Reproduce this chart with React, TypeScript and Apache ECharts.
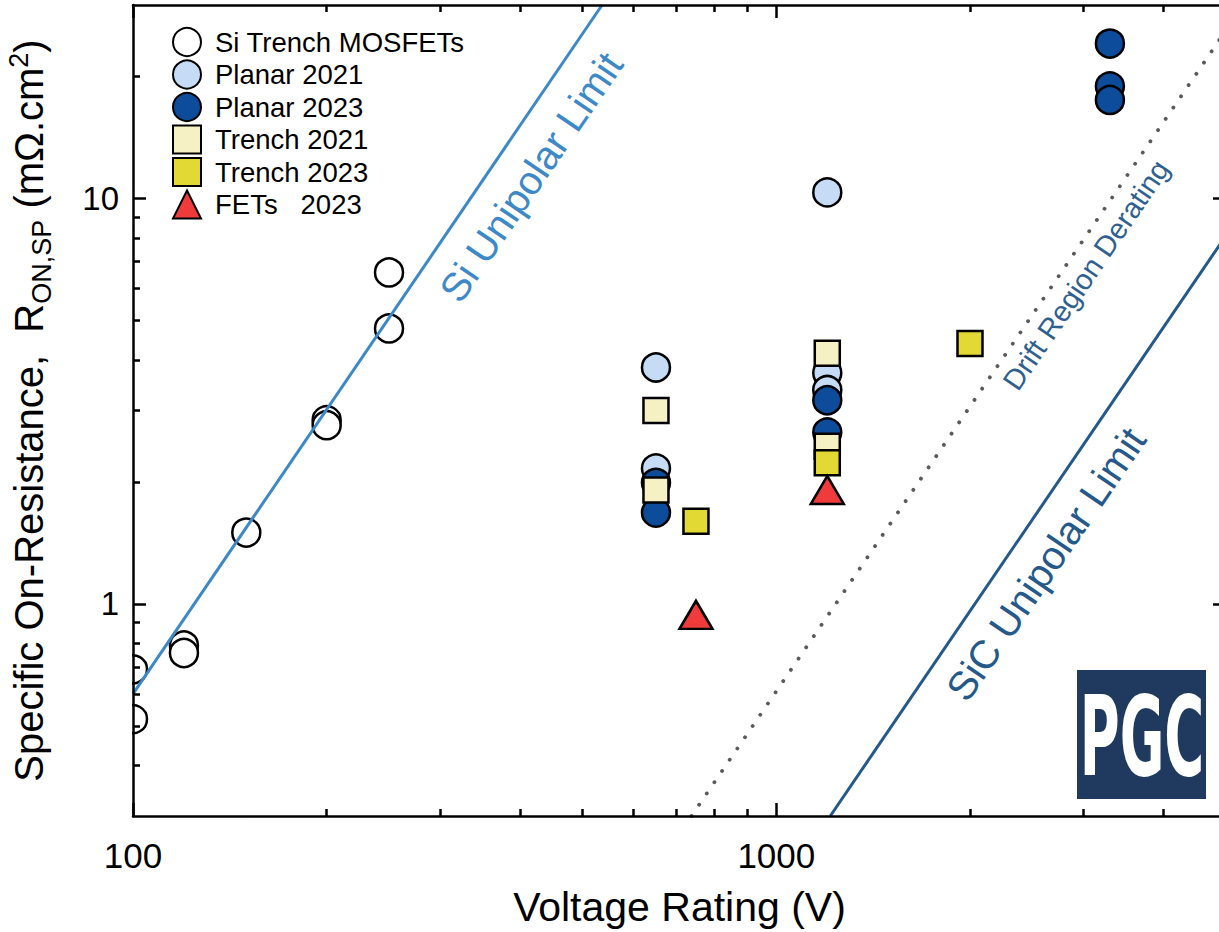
import React, { useEffect, useRef } from "react";
import * as echarts from "echarts";

// Device data: [voltage rating (V), specific on-resistance (mΩ·cm²)]
const siTrench: [number, number][] = [
  [100, 0.69], [100, 0.52], [120, 0.79], [120, 0.757], [150, 1.5],
  [200, 2.84], [200, 2.76], [250, 4.78], [250, 6.57],
];
const planar2021: [number, number][] = [
  [650, 3.83], [650, 2.16], [1200, 10.35], [1200, 3.71], [1200, 3.37],
];
const planar2023: [number, number][] = [
  [650, 1.99], [650, 1.68], [1200, 3.18], [1200, 2.65],
  [3300, 24.1], [3300, 18.9], [3300, 17.5],
];
const trench2021: [number, number][] = [
  [650, 3.0], [650, 1.91], [1200, 4.15], [1200, 2.45],
];
const trench2023: [number, number][] = [[750, 1.6], [1200, 2.23], [2000, 4.39]];
const fets2023: [number, number][] = [[750, 0.94], [1200, 1.91]];

// Limit lines (end points)
const siLimit: [number, number][] = [[100, 0.6], [536, 30]];
const sicLimit: [number, number][] = [[1213, 0.3], [5000, 8.1]];
const driftDerating: [number, number][] = [[738, 0.3], [5000, 26]];

// Axis ranges and ticks
const xRange = [100, 5000];
const yRange = [0.3, 30];
const xMajor = [100, 1000];
const xMinor = [200, 300, 400, 500, 600, 700, 800, 900, 2000, 3000, 4000];
const yMajor = [1, 10];
const yMinor = [0.4, 0.5, 0.6, 0.7, 0.8, 0.9, 2, 3, 4, 5, 6, 7, 8, 9, 20];

const FONT = "Liberation Sans, Arial, Helvetica, sans-serif";
const AXIS_W = 2.5;

function tickAxis(
  kind: "x" | "y",
  position: string,
  values: number[],
  length: number,
  labels: boolean,
  line: boolean
) {
  const range = kind === "x" ? xRange : yRange;
  return {
    type: "log",
    logBase: 10,
    min: range[0],
    max: range[1],
    position,
    z: 10,
    splitLine: { show: false },
    axisLine: {
      show: line,
      onZero: false,
      lineStyle: { color: "#000", width: AXIS_W },
    },
    axisTick: {
      show: true,
      inside: true,
      length,
      customValues: values,
      lineStyle: { color: "#000", width: AXIS_W },
    },
    axisLabel: labels
      ? {
          show: true,
          customValues: values,
          formatter: (v: number) => String(v),
          fontSize: kind === "x" ? 35 : 33,
          fontFamily: FONT,
          color: "#000",
          margin: kind === "x" ? 22 : 14,
        }
      : { show: false },
  } as any;
}

function scatter(name: string, data: [number, number][], symbol: string, size: any, color: string) {
  return {
    name,
    type: "scatter",
    data,
    symbol,
    symbolSize: size,
    itemStyle: { color, borderColor: "#000", borderWidth: 2.5, opacity: 1 },
    emphasis: { disabled: true },
  };
}

export default function App() {
  const ref = useRef<HTMLDivElement>(null);

  useEffect(() => {
    if (!ref.current) return;
    const chart = echarts.init(ref.current, undefined, { renderer: "svg" });
    const slopeAngle = Math.atan(1.463);

    const xAxes = [
      {
        ...tickAxis("x", "bottom", xMajor, 13, true, true),
        name: "Voltage Rating (V)",
        nameLocation: "middle",
        nameGap: 70,
        nameTextStyle: { fontSize: 41, fontFamily: FONT, color: "#000" },
      },
      tickAxis("x", "bottom", xMinor, 7, false, false),
      tickAxis("x", "top", xMajor, 13, false, true),
      tickAxis("x", "top", xMinor, 7, false, false),
    ];
    const yAxes = [
      {
        ...tickAxis("y", "left", yMajor, 13, true, true),
        name:
          "{a|Specific On-Resistance,  R}{sub|ON,SP}{a| (mΩ.cm}{sup|2}{a|)}",
        nameLocation: "middle",
        nameGap: 76,
        nameRotate: 90,
        nameTextStyle: {
          fontFamily: FONT,
          color: "#000",
          rich: {
            a: { fontSize: 40, fontFamily: FONT, color: "#000", lineHeight: 56, verticalAlign: "middle" },
            sub: { fontSize: 27, fontFamily: FONT, color: "#000", lineHeight: 27, verticalAlign: "bottom", padding: [0, 0, 2, 0] },
            sup: { fontSize: 27, fontFamily: FONT, color: "#000", lineHeight: 27, verticalAlign: "top", padding: [4, 0, 0, 0] },
          },
        },
      },
      tickAxis("y", "left", yMinor, 7, false, false),
      tickAxis("y", "right", yMajor, 13, false, true),
      tickAxis("y", "right", yMinor, 7, false, false),
    ];

    const lineSeries = (data: [number, number][], lineStyle: any) => ({
      type: "line",
      data,
      symbol: "none",
      clip: true,
      silent: true,
      lineStyle,
      emphasis: { disabled: true },
    });

    chart.setOption({
      animation: false,
      backgroundColor: "#fff",
      textStyle: { fontFamily: FONT },
      grid: { left: 133, right: 14, top: 5, bottom: 116, containLabel: false, outerBoundsMode: "none" },
      xAxis: xAxes,
      yAxis: yAxes,
      legend: {
        orient: "vertical",
        left: 167,
        top: 22,
        itemWidth: 28,
        itemHeight: 28,
        itemGap: 2.5,
        selectedMode: false,
        textStyle: { fontSize: 27.5, lineHeight: 28, fontFamily: FONT, color: "#000", padding: [0, 0, 0, 9] },
        data: [
          "Si Trench MOSFETs",
          "Planar 2021",
          "Planar 2023",
          "Trench 2021",
          "Trench 2023",
          "FETs\u00a0\u00a0\u00a02023",
        ],
      },
      series: [
        lineSeries(siLimit, { color: "#3d89c8", width: 3 }),
        lineSeries(driftDerating, { color: "#5a5a5a", width: 3.8, type: [0.1, 13.5], cap: "round" }),
        lineSeries(sicLimit, { color: "#24598a", width: 3 }),
        scatter("Si Trench MOSFETs", siTrench, "circle", 28, "#ffffff"),
        scatter("Planar 2021", planar2021, "circle", 28, "#c6dcf6"),
        scatter("Planar 2023", planar2023, "circle", 28, "#0d4c9a"),
        scatter("Trench 2021", trench2021, "rect", 25, "#f6f1c4"),
        scatter("Trench 2023", trench2023, "rect", 25, "#e3d934"),
        scatter("FETs\u00a0\u00a0\u00a02023", fets2023, "triangle", [33, 28], "#ef3b3b"),
      ],
      graphic: [
        // masks marker halves that fall left of the plotting area
        { type: "rect", z: 5, silent: true, shape: { x: 0, y: 0, width: 132, height: 815 }, style: { fill: "#fff" } },
        {
          type: "text", z: 6, x: 531, y: 177, rotation: slopeAngle,
          style: { text: "Si Unipolar Limit", fontSize: 40, fontFamily: FONT, fill: "#3d89c8", align: "center", verticalAlign: "middle" },
        },
        {
          type: "text", z: 6, x: 1086, y: 275, rotation: slopeAngle,
          style: { text: "Drift Region Derating", fontSize: 29, fontFamily: FONT, fill: "#2e6090", align: "center", verticalAlign: "middle" },
        },
        {
          type: "text", z: 6, x: 1046, y: 564, rotation: slopeAngle,
          style: { text: "SiC Unipolar Limit", fontSize: 40, fontFamily: FONT, fill: "#24598a", align: "center", verticalAlign: "middle" },
        },
        { type: "rect", z: 6, shape: { x: 1077, y: 670, width: 129, height: 129 }, style: { fill: "#1f3a5e" } },
        {
          type: "text", z: 7, x: 1142, y: 737, scaleX: 0.55,
          style: {
            text: "PGC", fontSize: 110, fontWeight: "bold",
            fontFamily: "Liberation Sans Narrow, DejaVu Sans Condensed, Arial, sans-serif",
            fill: "#fff", align: "center", verticalAlign: "middle",
          },
        },
      ],
    } as any);

    return () => chart.dispose();
  }, []);

  return (
    <div style={{ position: "fixed", left: 0, top: 0, width: "100vw", height: "100vh", overflow: "hidden", background: "#fff" }}>
      <div ref={ref} style={{ width: 1240, height: 932 }} />
    </div>
  );
}
